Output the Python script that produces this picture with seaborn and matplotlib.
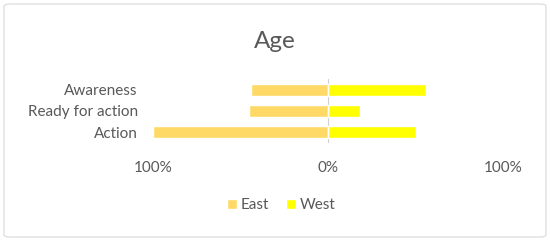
import matplotlib
matplotlib.use("Agg")
import matplotlib.pyplot as plt
import pandas as pd
import seaborn as sns
from matplotlib.patches import FancyBboxPatch
from matplotlib.ticker import FuncFormatter

# data (percent)
categories = ['Awareness', 'Ready for action', 'Action']
east = [44, 45, 100]
west = [56, 18, 50]

sns.set_theme(style='white')
plt.rcParams['font.family'] = ['Lato', 'DejaVu Sans']
text_col = '#595959'

df = pd.DataFrame({
    'stage': categories * 2,
    'value': [-v for v in east] + west,
    'region': ['East'] * 3 + ['West'] * 3,
})

fig = plt.figure(figsize=(5.5, 2.41), dpi=100)
ax = fig.add_axes([153 / 550, 1 - 142.5 / 241, 350 / 550, 63 / 241])

sns.barplot(data=df, y='stage', x='value', hue='region', order=categories,
            palette={'East': '#FFD966', 'West': '#FFFF00'}, dodge=False,
            saturation=1, width=0.58, orient='h', ax=ax)

ax.set_xlim(-100, 100)
ax.set_xticks([-100, 0, 100])
ax.xaxis.set_major_formatter(FuncFormatter(lambda v, p: f'{abs(v):.0f}%'))
ax.axvline(0, color='#d0d0d0', lw=0.8, zorder=0)
for s in ax.spines.values():
    s.set_visible(False)
ax.set_xlabel('')
ax.set_ylabel('')
ax.tick_params(axis='x', pad=13, labelsize=11, colors=text_col, length=0)
ax.tick_params(axis='y', pad=11, labelsize=11, colors=text_col, length=0)

leg = ax.legend(loc='center', bbox_to_anchor=(281 / 550, 1 - 205 / 241),
                bbox_transform=fig.transFigure, ncol=2, frameon=False,
                fontsize=11, handlelength=0.65, handleheight=0.65,
                handletextpad=0.25, columnspacing=1.1)
for t in leg.get_texts():
    t.set_color(text_col)

fig.text(0.5, 1 - 42 / 241, 'Age', ha='center', va='center',
         fontsize=17.5, color=text_col)

fig.patches.append(FancyBboxPatch((4 / 550, 4 / 241), 542 / 550, 233 / 241,
                                  boxstyle='round,pad=0,rounding_size=0.01',
                                  transform=fig.transFigure, fill=False,
                                  edgecolor='#d9d9d9', lw=0.8))

fig.savefig('out.png', dpi=100)
